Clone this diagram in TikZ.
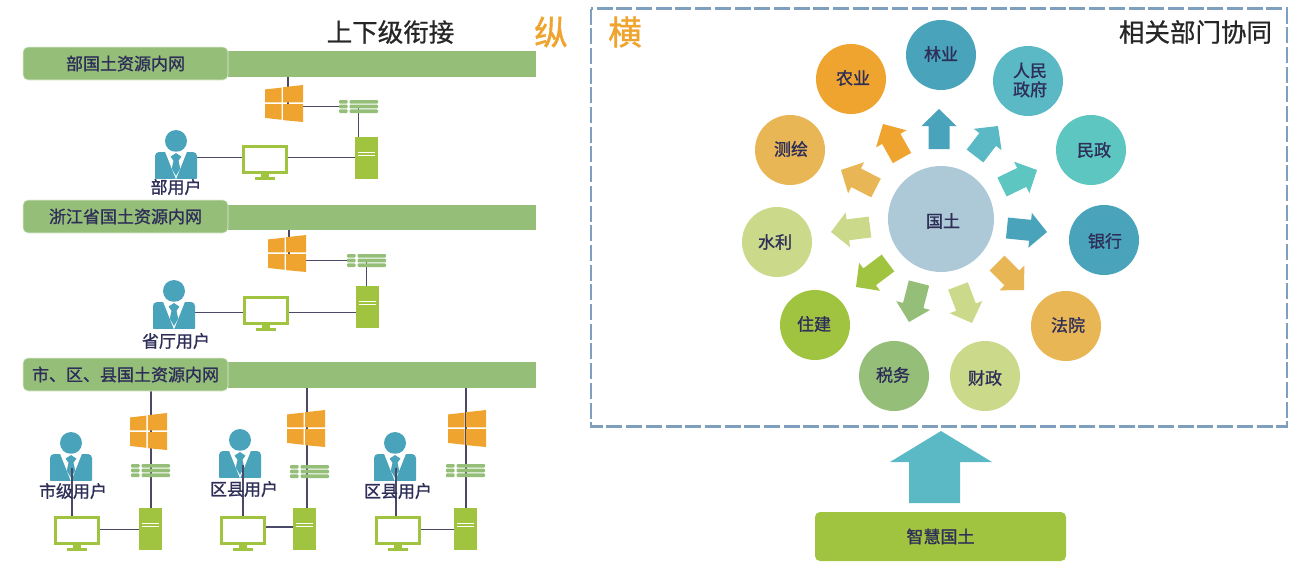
\documentclass[tikz,border=0pt]{standalone}
\usepackage{fontspec}
\newfontfamily\cjk{Noto Sans CJK SC}
\newfontfamily\cjkm[FakeBold=1.2]{Noto Sans CJK SC}
\newfontfamily\cjkt[FakeBold=0.8]{Noto Sans CJK SC}
\usetikzlibrary{calc,backgrounds}
\definecolor{navy}{HTML}{2E2E58}
\definecolor{barg}{HTML}{95BF79}
\definecolor{lime}{HTML}{A0C440}
\definecolor{pale}{HTML}{CBD98A}
\definecolor{teal}{HTML}{48A3BB}
\definecolor{aqua}{HTML}{5AB9C4}
\definecolor{mint}{HTML}{5EC6C1}
\definecolor{orng}{HTML}{EFA42F}
\definecolor{sand}{HTML}{E8B655}
\definecolor{hubc}{HTML}{ADC8D7}
\definecolor{wire}{HTML}{4A4A68}
\definecolor{frm}{HTML}{7F9FBE}
\tikzset{
  lbl/.style={font=\cjkm\fontsize{17}{20}\selectfont,text=navy,align=center,inner sep=0pt},
  ttl/.style={font=\cjkt\fontsize{25.5}{28}\selectfont,text=black!85,inner sep=0pt},
  ttlo/.style={font=\cjkm\fontsize{33.5}{36}\selectfont,text=orng,inner sep=0pt},
  hole/.style={inner sep=0pt,outer sep=0pt,rectangle},
  disc/.style={circle,inner sep=0pt,outer sep=0pt,minimum size=70pt},
  barlab/.style={rectangle,rounded corners=5pt,fill=barg,draw=white!70!barg,line width=.6pt,lbl,inner sep=0pt,outer sep=0pt},
  wirel/.style={draw=wire,line width=1.8pt},
}
% top-left x, y, width, height
\newcommand{\rectnode}[6][]{\node[hole,minimum width=#5pt,minimum height=#6pt,#1] (#2) at ({#3+#5/2},{#4+#6/2}) {};}
\newcommand{\wins}[5]{\rectnode{#1}{#2}{#3}{#4}{#5}
  \begin{scope}[shift={(#2,#3)},x=#4pt,y=-#5pt]
   \fill[orng] (0,.12)--(.44,.07)--(.44,.47)--(0,.47)--cycle;
   \fill[orng] (.48,.06)--(1,0)--(1,.47)--(.48,.47)--cycle;
   \fill[orng] (0,.52)--(.44,.52)--(.44,.94)--(0,.89)--cycle;
   \fill[orng] (.48,.52)--(1,.52)--(1,1)--(.48,.95)--cycle;
  \end{scope}}
\newcommand{\switchicon}[3]{\rectnode{#1}{#2}{#3}{39}{13}
  \begin{scope}[shift={(#2,#3)},x=39pt,y=-13pt]
   \foreach \r in {0,.36,.72}{
    \fill[barg,rounded corners=1pt] (0,\r) rectangle (.22,\r+.28);
    \fill[barg,rounded corners=1pt] (.27,\r) rectangle (1,\r+.28);}
  \end{scope}}
\newcommand{\tower}[3]{\rectnode{#1}{#2}{#3}{23}{42}
  \begin{scope}[shift={(#2,#3)},x=23pt,y=-42pt]
   \fill[lime] (0,0) rectangle (1,1);
   \draw[white,line width=.8pt] (.15,.37)--(.85,.37) (.15,.44)--(.85,.44);
  \end{scope}}
\newcommand{\screen}[3]{\rectnode{#1}{#2}{#3}{46}{29}
  \begin{scope}[shift={(#2,#3)},x=46pt,y=-29pt]
   \draw[lime,line width=2.5pt] (.03,.05) rectangle (.97,.95);
   \fill[lime] (.42,1) rectangle (.58,1.1);
   \fill[lime] (.28,1.1) rectangle (.72,1.19);
  \end{scope}}
\newcommand{\person}[3]{% body top-left
  \rectnode{#1}{#2}{#3}{42}{27}
  \fill[teal] ({#2+21},{#3-11}) circle (11pt);
  \begin{scope}[shift={(#2,#3)},x=42pt,y=-27pt]
   \fill[teal,rounded corners=4pt] (0,1.1) -- (0,0) -- (1,0) -- (1,1.1) -- cycle;
   \fill[white] (0,1) rectangle (1,1.2);
   \fill[white] (.24,-.01) -- (.76,-.01) -- (.5,1.01) -- cycle;
   \fill[teal] (.5,.04) -- (.63,.17) -- (.56,.32) -- (.6,.62) -- (.5,.88) -- (.4,.62) -- (.44,.32) -- (.37,.17) -- cycle;
  \end{scope}}
\newcommand{\blockarrow}[5]{% tail x,y; tip x,y; colour
  \coordinate (T) at (#1,#2); \coordinate (H) at (#3,#4);
  \coordinate (N) at ($(H)!17pt!(T)$);
  \fill[#5] ($(T)!10.5pt!90:(H)$) -- ($(N)!10.5pt!90:(H)$) -- ($(N)!17.5pt!90:(H)$) -- (H)
    -- ($(N)!17.5pt!-90:(H)$) -- ($(N)!10.5pt!-90:(H)$) -- ($(T)!10.5pt!-90:(H)$) -- cycle;}
\begin{document}
\begin{tikzpicture}[x=1pt,y=-1pt]
\useasboundingbox (0,0) rectangle (1307,562);
% titles
\node[ttl] (t1) at (390.5,32) {上下级衔接};
\node[ttlo] (t2) at (551,32) {纵};
\node[ttlo] (t3) at (625,32) {横};
\node[ttl] (t4) at (1195.5,32) {相关部门协同};
% network bars
\rectnode[fill=barg]{bar1}{225}{51}{311}{26}
\rectnode[fill=barg]{bar2}{225}{205}{311}{25}
\rectnode[fill=barg]{bar3}{225}{362}{311}{26}
\node[barlab,minimum width=205pt,minimum height=33pt] (l1) at (125.5,63.5) {部国土资源内网};
\node[barlab,minimum width=205pt,minimum height=33pt] (l2) at (125.5,216.5) {浙江省国土资源内网};
\node[barlab,minimum width=205pt,minimum height=33pt] (l3) at (125.5,374.5) {市、区、县国土资源内网};
% icons: ministry
\wins{w1}{265}{85}{38}{37}
\switchicon{s1}{339}{100}
\tower{v1}{355}{137}
\screen{m1}{242}{145}
\person{p1}{155}{152}
% province
\wins{w2}{268}{235}{38}{37}
\switchicon{s2}{347}{254}
\tower{v2}{356}{286}
\screen{m2}{243}{296}
\person{p2}{153}{302}
% city/county
\wins{w3}{130}{413}{37}{37}
\switchicon{s3}{131}{464}
\tower{v3}{139}{508}
\screen{m3}{54}{516}
\person{p3}{50}{454}
\wins{w4}{287}{410}{38}{37}
\switchicon{s4}{290}{465}
\tower{v4}{293}{508}
\screen{m4}{220}{516}
\person{p4}{219}{451}
\wins{w5}{448}{410}{38}{37}
\switchicon{s5}{446}{464}
\tower{v5}{454}{508}
\screen{m5}{375}{516}
\person{p5}{374}{454}
% connectors
\begin{pgfonlayer}{background}
\draw[wirel] (w1.north) ++(4,-8) coordinate (a1) -- (a1 |- s1.center);
\draw[wirel] (a1 |- s1.center) -- (s1.west);
\draw[wirel] (s1.center) -- (s1.center |- v1.north);
\draw[wirel] (p1.east) ++(0,-8) coordinate (b1) -- (m1.west |- b1);
\draw[wirel] (m1.east |- b1) -- (v1.west |- b1);
\draw[wirel] (w2.north) ++(2,-5) coordinate (a2) -- (a2 |- s2.center);
\draw[wirel] (a2 |- s2.center) -- (s2.west);
\draw[wirel] (s2.center) -- (s2.center |- v2.north);
\draw[wirel] (p2.east) ++(0,-3) coordinate (b2) -- (m2.west |- b2);
\draw[wirel] (m2.east |- b2) -- (v2.west |- b2);
\draw[wirel] (w3.north) ++(2.5,-22) coordinate (a3) -- (a3 |- v3.north);
\draw[wirel] (m3.east) ++(0,-1) coordinate (c3) -- (v3.west |- c3);
\draw[wirel] (w4.north) ++(1,-22) coordinate (a4) -- (a4 |- v4.north);
\draw[wirel] (m4.east) ++(0,-3.5) coordinate (c4) -- (v4.west |- c4);
\draw[wirel] (w5.north) ++(-1,-22) coordinate (a5) -- (a5 |- v5.north);
\draw[wirel] (m5.east) ++(0,-1) coordinate (c5) -- (v5.west |- c5);
\end{pgfonlayer}
\draw[wirel] (m3.north) ++(-5,0) coordinate (d3) -- (d3 |- p3.center);
\draw[wirel] (m4.north) ++(0,0) coordinate (d4) -- (d4 |- p4.center);
\draw[wirel] (m5.north) ++(-2,0) coordinate (d5) -- (d5 |- p5.center);
% user labels
\node[lbl] (u1) at (176,187) {部用户};
\node[lbl] (u2) at (176,341) {省厅用户};
\node[lbl] (u3) at (73,491) {市级用户};
\node[lbl] (u4) at (244,489) {区县用户};
\node[lbl] (u5) at (398,491) {区县用户};
% right panel
\draw[frm,line width=2.9pt,dash pattern=on 16pt off 3.7pt] (591,8.5) rectangle (1287,426.5);
\node[disc,minimum size=106pt,fill=hubc] (hub) at (941,219) {};
\node[lbl] (hubt) at (943,221) {国土};
\node[disc,fill=teal] (c1) at (941,55) {};
\node[lbl] (c1t) at (941,54) {林业};
\node[disc,fill=aqua] (c2) at (1028,81) {};
\node[lbl] (c2t) at (1030,80) {人民\\[-1pt]政府};
\node[disc,fill=mint] (c3) at (1091,150) {};
\node[lbl] (c3t) at (1094,150) {民政};
\node[disc,fill=teal] (c4) at (1104,240) {};
\node[lbl] (c4t) at (1105,241) {银行};
\node[disc,fill=sand] (c5) at (1066,326) {};
\node[lbl] (c5t) at (1068,325) {法院};
\node[disc,fill=pale] (c6) at (985,376) {};
\node[lbl] (c6t) at (985,378) {财政};
\node[disc,fill=barg] (c7) at (894,376) {};
\node[lbl] (c7t) at (893,375) {税务};
\node[disc,fill=lime] (c8) at (815,325) {};
\node[lbl] (c8t) at (814,324) {住建};
\node[disc,fill=pale] (c9) at (777,242) {};
\node[lbl] (c9t) at (775,242) {水利};
\node[disc,fill=sand] (c10) at (790,150) {};
\node[lbl] (c10t) at (791,149) {测绘};
\node[disc,fill=orng] (c11) at (851,79) {};
\node[lbl] (c11t) at (853,78) {农业};
\blockarrow{939}{149}{939}{109}{teal}
\blockarrow{975}{156}{998}{126}{aqua}
\blockarrow{1002}{187}{1037}{170}{mint}
\blockarrow{1007}{228}{1047}{232}{teal}
\blockarrow{997}{263}{1024}{290}{sand}
\blockarrow{958}{286}{972}{323}{pale}
\blockarrow{919}{283}{909}{322}{barg}
\blockarrow{888}{263}{856}{287}{lime}
\blockarrow{870}{227}{831}{232}{pale}
\blockarrow{876}{188}{841}{170}{sand}
\blockarrow{902}{158}{883}{124}{orng}
% base
\node[rectangle,rounded corners=5pt,fill=lime,minimum width=251pt,minimum height=49pt,lbl] (base) at (940.5,536.5) {智慧国土};
\coordinate (uptip) at (941,431);
\fill[aqua] (uptip) -- ++(51,31) -- ++(-32,0) |- (909,503) |- (890,462) -- cycle;
\end{tikzpicture}
\end{document}
